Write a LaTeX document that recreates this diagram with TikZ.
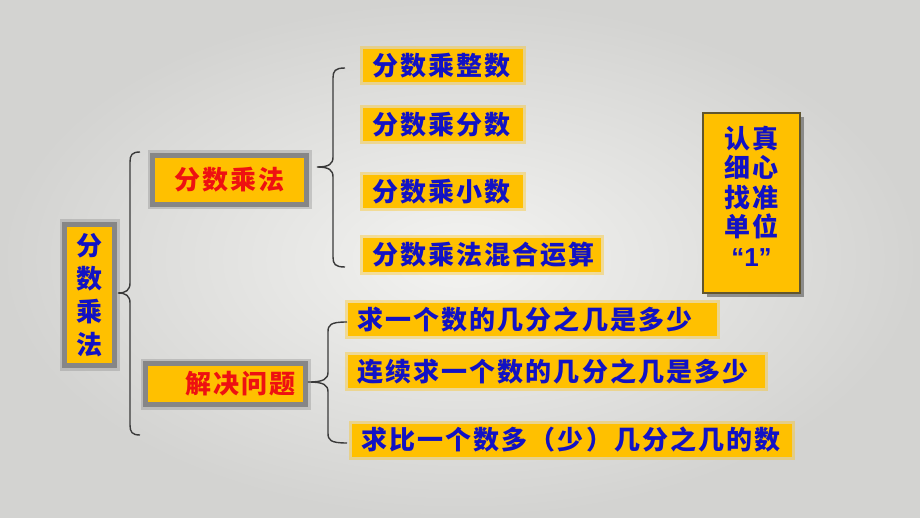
\documentclass[tikz,border=0pt]{standalone}
\usepackage{fontspec}
\usepackage{xcolor}
\usepackage{tikz}
\usetikzlibrary{calc,positioning,shadows}
\newfontfamily\cjk{Noto Sans CJK SC}[LetterSpace=8]
\newfontfamily\latin{Liberation Sans}
\definecolor{paper}{HTML}{F3F3F1}
\definecolor{paperedge}{HTML}{D3D3D1}
\definecolor{tag}{HTML}{FFC000}
\definecolor{frame}{HTML}{868686}
\definecolor{ink}{HTML}{1212C4}
\definecolor{hot}{HTML}{EE1111}
\definecolor{rule}{HTML}{3A3A3A}

\begin{document}
\begin{tikzpicture}[
    x=0.5pt,y=-0.5pt,
    txt/.style={font=\cjk\bfseries\fontsize{13}{15}\selectfont},
    tagbox/.style={txt,text=ink,fill=tag,anchor=west,align=left,
      inner xsep=4.5pt,inner ysep=0pt,minimum height=16.5pt,
      preaction={draw=tag,draw opacity=.35,line width=3pt}},
    framebox/.style={txt,text=hot,fill=tag,draw=frame,line width=2.5pt,inner sep=0pt,
      preaction={draw=frame,draw opacity=.35,line width=5pt}},
    curl/.style={draw=rule,line width=.7pt}
  ]
  % tip x, tip y, spine x, top y, bottom y, end x
  \def\curly#1#2#3#4#5#6{%
    \draw[curl] (#6,#4) .. controls ({#3+2},#4) and (#3,{#4+3}) .. (#3,{#4+10})
      -- (#3,{#2-10}) .. controls (#3,{#2-3}) and ({#3-4},#2) .. (#1,#2)
      .. controls ({#3-4},#2) and (#3,{#2+3}) .. (#3,{#2+10})
      -- (#3,{#5-10}) .. controls (#3,{#5-3}) and ({#3+2},#5) .. (#6,#5);}
  \useasboundingbox (0,0) rectangle (920,518);
  \shade[inner color=paper,outer color=paperedge] (0,0) rectangle (920,518);

  % root
  \node[framebox,text=ink,minimum width=25pt,minimum height=70.5pt,align=center,
    font=\cjk\bfseries\fontsize{13}{16.5}\selectfont] (root) at (89.5,295) {分\\数\\乘\\法};

  % two branches
  \node[framebox,minimum width=77pt,minimum height=24.5pt] (calc) at (229.5,180) {分数乘法};
  \node[framebox,minimum width=80pt,minimum height=20.5pt,text width=70pt,align=right]
    (solve) at (225.5,384) {解决问题};

  % leaves of the first branch
  \foreach \name/\y/\word in {mul-int/66/分数乘整数,mul-frac/125/分数乘分数,mul-dec/192/分数乘小数}
    \node[tagbox,text width=71pt] (\name) at (363,\y) {\word};
  \node[tagbox,text width=110pt] (mul-mix) at (363,255) {分数乘法混合运算};

  % leaves of the second branch
  \node[tagbox,text width=175.5pt] (part-of) at (348,319) {求一个数的几分之几是多少};
  \node[tagbox,text width=199.5pt] (part-twice) at (348,371.5) {连续求一个数的几分之几是多少};
  \node[tagbox,text width=211pt] (more-less) at (352,440) {求比一个数多（少）几分之几的数};

  % reminder
  \node[fill=tag,draw=rule!80!tag,line width=.6pt,
    drop shadow={shadow xshift=2pt,shadow yshift=-2pt,opacity=.55,fill=black!70},
    minimum width=48.5pt,minimum height=90pt] (hint) at (751.5,203) {};
  \node[txt,text=ink,align=center,font=\cjk\bfseries\fontsize{13}{14.75}\selectfont]
    (hint-text) at (751.5,196) {认真\\细心\\找准\\单位\\{\latin\bfseries “1”}};

  % braces
  \curly{118}{293}{130}{152}{435}{140}
  \curly{317}{167}{333}{68}{267}{345}
  \curly{308}{382}{328}{322}{443}{347}
\end{tikzpicture}
\end{document}
